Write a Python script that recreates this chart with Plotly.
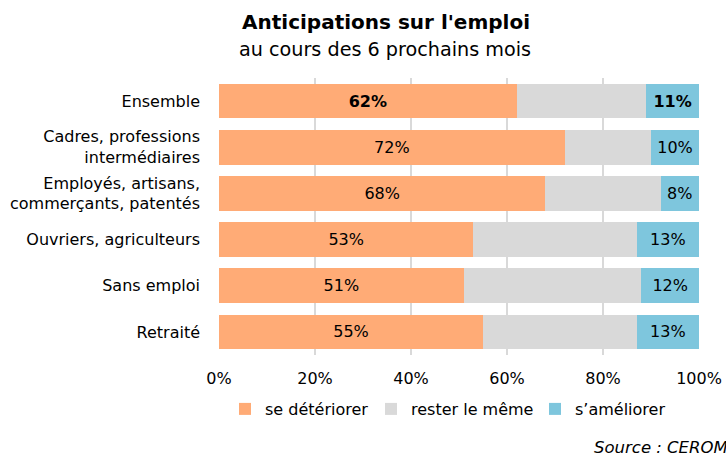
import plotly.graph_objects as go

categories = [
    "Ensemble",
    "Cadres, professions<br>intermédiaires",
    "Employés, artisans,<br>commerçants, patentés",
    "Ouvriers, agriculteurs",
    "Sans emploi",
    "Retraité",
]
deteriorer = [62, 72, 68, 53, 51, 55]
rester = [27, 18, 24, 34, 37, 32]
ameliorer = [11, 10, 8, 13, 12, 13]
tick_vals = [0, 20, 40, 60, 80, 100]
tick_text = ["0%", "20%", "40%", "60%", "80%", "100%"]

FONT = "DejaVu Sans, sans-serif"

# zone de tracé en pixels
L, R, T, B = 219, 27, 78, 98
W, H = 726, 453
PW, PH = W - L - R, H - T - B


def px_x(p):
    return (p - L) / PW


def px_y(p):
    return (H - B - p) / PH


def labels(values):
    # la ligne "Ensemble" est en gras
    return [f"<b>{v}%</b>" if i == 0 else f"{v}%" for i, v in enumerate(values)]


fig = go.Figure()
fig.add_trace(go.Bar(
    y=categories, x=deteriorer, orientation="h", name="se détériorer",
    marker=dict(color="#FFAB76", line=dict(width=0)),
    text=labels(deteriorer), textposition="inside", insidetextanchor="middle",
    textfont=dict(color="black", size=16, family=FONT), legend="legend",
))
fig.add_trace(go.Bar(
    y=categories, x=rester, orientation="h", name="rester le même",
    marker=dict(color="#D9D9D9", line=dict(width=0)), legend="legend2",
))
fig.add_trace(go.Bar(
    y=categories, x=ameliorer, orientation="h", name="s\u2019améliorer",
    marker=dict(color="#7EC6DD", line=dict(width=0)),
    text=labels(ameliorer), textposition="inside", insidetextanchor="middle",
    textfont=dict(color="black", size=16, family=FONT), legend="legend3",
))

leg = dict(orientation="h", y=px_y(409), yanchor="middle", xanchor="left",
           font=dict(size=16), itemwidth=30, bgcolor="rgba(0,0,0,0)")

fig.update_layout(
    barmode="stack",
    bargap=0.25,
    width=W, height=H,
    margin=dict(l=L, r=R, t=T, b=B),
    paper_bgcolor="white", plot_bgcolor="white",
    font=dict(family=FONT, size=16, color="black"),
    showlegend=True,
    legend=dict(leg, x=px_x(263 - 38)),
    legend2=dict(leg, x=px_x(409 - 38)),
    legend3=dict(leg, x=px_x(573 - 38)),
    uniformtext=dict(mode="show", minsize=10),
    annotations=[
        dict(text="<b>Anticipations sur l'emploi</b>", xref="paper", yref="paper",
             x=px_x(386), y=px_y(22), xanchor="center", yanchor="middle",
             showarrow=False, font=dict(size=20)),
        dict(text="au cours des 6 prochains mois", xref="paper", yref="paper",
             x=px_x(385), y=px_y(50), xanchor="center", yanchor="middle",
             showarrow=False, font=dict(size=19.2)),
        dict(text="<i>Source : CEROM</i>", xref="paper", yref="paper",
             x=px_x(592), y=px_y(448), xanchor="left", yanchor="middle",
             showarrow=False, font=dict(size=16.5)),
    ],
)
fig.update_xaxes(
    range=[0, 100], tickvals=tick_vals, ticktext=tick_text, automargin=False,
    showgrid=True, gridcolor="#D9D9D9", gridwidth=2, zeroline=False,
    ticks="", ticklabelstandoff=12, tickfont=dict(size=16), fixedrange=True,
)
fig.update_yaxes(
    autorange="reversed", showgrid=False, ticks="", ticklabelstandoff=18,
    automargin=False, tickfont=dict(size=16), fixedrange=True,
)

fig.write_html("out.html", config={"displayModeBar": False},
               post_script="document.body.style.margin = '0';")
